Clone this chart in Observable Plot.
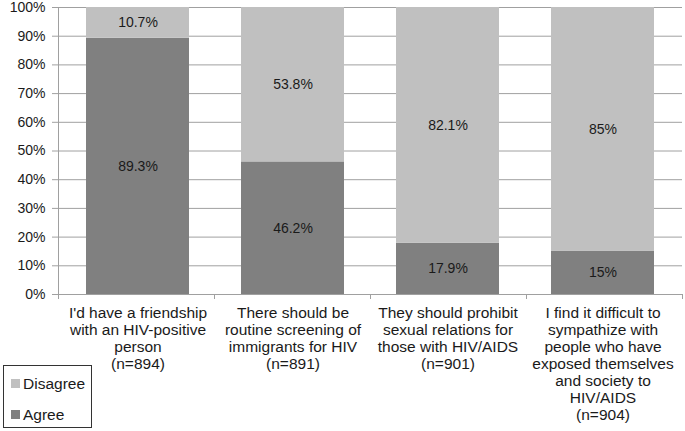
<!DOCTYPE html>
<html>
<head>
<meta charset="utf-8">
<script src="https://cdn.jsdelivr.net/npm/d3@7"></script>
<script src="https://cdn.jsdelivr.net/npm/@observablehq/plot@0.6"></script>
<style>
  body { margin: 0; background: #fff; }
  #wrap { position: relative; width: 685px; height: 431px; font-family: "Liberation Sans", Arial, sans-serif; color: #1a1a1a; }
  #legend { position: absolute; left: 3px; top: 365px; width: 89px; height: 63px; box-sizing: border-box; border: 1px solid #333; background: #fff; }
  .item { position: absolute; left: 7px; display: flex; align-items: center; font-size: 15.5px; line-height: 1; }
  .sw { width: 9px; height: 9px; margin-right: 3px; }
</style>
</head>
<body>
<div id="wrap">
  <div id="chart"></div>
  <div id="legend"></div>
</div>
<script>
const questions = [
  "I'd have a friendship\nwith an HIV-positive\nperson",
  "There should be\nroutine screening of\nimmigrants for HIV",
  "They should prohibit\nsexual relations for\nthose with HIV/AIDS",
  "I find it difficult to\nsympathize with\npeople who have\nexposed themselves\nand society to\nHIV/AIDS"
];
const sampleSizes = [894, 891, 901, 904];
const agree = [89.3, 46.2, 17.9, 15];
const disagree = [10.7, 53.8, 82.1, 85];
const series = ["Agree", "Disagree"];
const seriesColors = ["#808080", "#c0c0c0"];
const yTicks = [0, 10, 20, 30, 40, 50, 60, 70, 80, 90, 100];

const labels = questions.map((q, i) => q + "\n(n=" + sampleSizes[i] + ")");
const rows = [];
labels.forEach((c, i) => {
  rows.push({cat: c, series: "Agree", value: agree[i]});
  rows.push({cat: c, series: "Disagree", value: disagree[i]});
});

const W = 685, H = 431, mL = 58, mR = 3, mT = 7, mB = 137;
const axisColor = "#a0a0a0";

function axisLines(index, scales, values, dims) {
  const g = d3.create("svg:g").attr("stroke", axisColor).attr("stroke-width", 1);
  const x0 = dims.marginLeft, x1 = dims.width - dims.marginRight;
  const y0 = dims.height - dims.marginBottom, yTop = dims.marginTop;
  g.append("line").attr("x1", x0 + 0.5).attr("x2", x0 + 0.5).attr("y1", yTop).attr("y2", y0 + 0.5);
  g.append("line").attr("x1", x0).attr("x2", x1).attr("y1", y0 + 0.5).attr("y2", y0 + 0.5);
  const n = labels.length, step = (x1 - x0) / n;
  for (let i = 0; i <= n; i++) {
    const xx = Math.round(x0 + i * step) + 0.5;
    g.append("line").attr("x1", xx).attr("x2", xx).attr("y1", y0).attr("y2", y0 + 5);
  }
  return g.node();
}

const chart = Plot.plot({
  width: W, height: H,
  marginLeft: mL, marginRight: mR, marginTop: mT, marginBottom: mB,
  style: {fontFamily: "'Liberation Sans', Arial, sans-serif", fontSize: "14px", color: "#1a1a1a", background: "white"},
  x: {domain: labels, paddingInner: 0.333, paddingOuter: 0.1667},
  y: {domain: [0, 100]},
  color: {domain: series, range: seriesColors},
  marks: [
    Plot.gridY(yTicks, {stroke: axisColor, strokeOpacity: 1}),
    Plot.barY(rows, {x: "cat", y: "value", fill: "series", z: "series", order: series}),
    Plot.text(rows, Plot.stackY({x: "cat", y: "value", z: "series", order: series, text: d => d.value + "%", fontSize: 14, fill: "#1a1a1a"})),
    axisLines,
    Plot.axisY(yTicks, {tickSize: 6, tickPadding: 7, tickFormat: d => d + "%", fontSize: 14, stroke: axisColor, fill: "#1a1a1a", label: null}),
    Plot.axisX({tickSize: 0, tickPadding: 11, fontSize: 15.5, lineHeight: 1.1, fill: "#1a1a1a", label: null})
  ]
});
document.getElementById("chart").appendChild(chart);

const legend = document.getElementById("legend");
const legendOrder = ["Disagree", "Agree"];
const legendTops = [10, 41];
legendOrder.forEach((s, i) => {
  const it = document.createElement("div");
  it.className = "item";
  it.style.top = legendTops[i] + "px";
  const sw = document.createElement("div");
  sw.className = "sw";
  sw.style.background = seriesColors[series.indexOf(s)];
  const t = document.createElement("span");
  t.textContent = s;
  it.appendChild(sw); it.appendChild(t);
  legend.appendChild(it);
});
</script>
</body>
</html>
